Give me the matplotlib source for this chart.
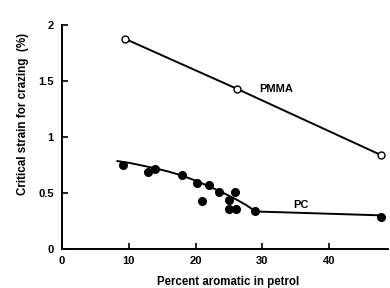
import matplotlib
matplotlib.use("Agg")
import matplotlib.pyplot as plt

plt.rcParams['font.family'] = ['Liberation Sans', 'DejaVu Sans']

pmma_x = [9.5, 26.2, 47.7]
pmma_y = [1.875, 1.43, 0.84]

pc_x = [9.2, 12.9, 13.9, 17.9, 20.2, 20.9, 22.0, 23.5, 25.9, 25.0, 25.0, 26.1, 28.9, 47.8]
pc_y = [0.75, 0.69, 0.71, 0.66, 0.59, 0.43, 0.57, 0.51, 0.51, 0.44, 0.36, 0.36, 0.34, 0.29]

pc_fit_x = [8.3, 10, 12, 14, 16, 18, 20, 22, 24, 26, 27.5, 29, 48]
pc_fit_y = [0.785, 0.77, 0.745, 0.72, 0.69, 0.655, 0.61, 0.56, 0.505, 0.445, 0.395, 0.335, 0.30]

xticks = [0, 10, 20, 30, 40]
yticks = [0, 0.5, 1, 1.5, 2]
yticklabels = ['0', '0.5', '1', '1.5', '2']

W, H = 390, 288
fig = plt.figure(figsize=(W / 100, H / 100), dpi=100)
ax = fig.add_axes([62 / W, 1 - 249 / H, 326 / W, 224 / H])

ax.plot(pmma_x, pmma_y, color='black', lw=1.4, zorder=2)
ax.plot(pmma_x, pmma_y, 'o', ms=5, mfc='white', mec='black', mew=1.0, zorder=3, clip_on=False)

ax.plot(pc_fit_x, pc_fit_y, color='black', lw=1.4, zorder=2)
ax.plot(pc_x, pc_y, 'o', ms=5.5, color='black', zorder=3, clip_on=False)

ax.text(29.6, 1.43, 'PMMA', fontsize=8, fontweight='bold', va='center', ha='left')
ax.text(34.6, 0.39, 'PC', fontsize=8, fontweight='bold', va='center', ha='left')

ax.set_xlim(0, 48.8)
ax.set_ylim(0, 2.0)
ax.set_xticks(xticks)
ax.set_yticks(yticks)
ax.set_yticklabels(yticklabels)
for lab in ax.get_xticklabels() + ax.get_yticklabels():
    lab.set_fontweight('bold')
    lab.set_fontsize(8)
ax.tick_params(axis='x', direction='in', length=4, width=1.2, pad=5)
ax.tick_params(axis='y', direction='in', length=4, width=1.2, pad=6)
ax.spines['top'].set_visible(False)
ax.spines['right'].set_visible(False)
ax.spines['left'].set_linewidth(1.4)
ax.spines['bottom'].set_linewidth(1.4)

fig.text(228 / W, 1 - 282 / H, 'Percent aromatic in petrol', fontsize=8.3,
         fontweight='bold', ha='center', va='center')
fig.text(23 / W, 1 - 114 / H, 'Critical strain for crazing  (%)', fontsize=8.4,
         fontweight='bold', ha='center', va='center', rotation=90)

fig.savefig('out.png', dpi=100)
